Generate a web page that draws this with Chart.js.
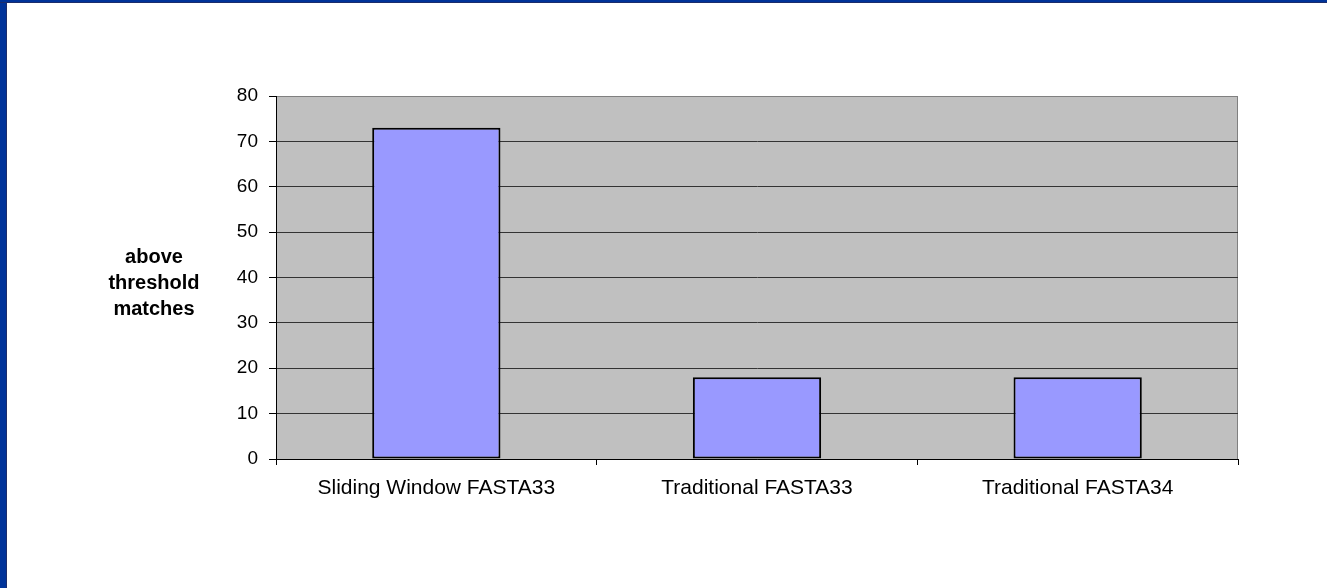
<!DOCTYPE html>
<html>
<head>
<meta charset="utf-8">
<script src="https://cdn.jsdelivr.net/npm/chart.js@4/dist/chart.umd.min.js"></script>
<style>
  html, body { margin: 0; padding: 0; background: #fff; }
  #wrap { position: relative; width: 1327px; height: 588px; overflow: hidden; }
  #chart { position: absolute; left: 0; top: 0; }
  .edge { position: absolute; background: #003399; }
  #edgeLeft { left: 0; top: 0; width: 6px; height: 588px; border-right: 1px solid #1c2d6b; }
  #edgeTop { left: 0; top: 0; width: 1327px; height: 2px; border-bottom: 1px solid #1c2d6b; }
</style>
</head>
<body>
<div id="wrap">
  <canvas id="chart" width="1327" height="588"></canvas>
  <div class="edge" id="edgeLeft"></div>
  <div class="edge" id="edgeTop"></div>
</div>
<script>
const categories = ['Sliding Window FASTA33', 'Traditional FASTA33', 'Traditional FASTA34'];
const matches = [73, 18, 18];
const yTitleLines = ['above', 'threshold', 'matches'];
const yMax = 80;
const yStep = 10;

const FONT = '"Liberation Sans", Arial, sans-serif';

// grey plot background with a thin grey frame
const plotBackground = {
  id: 'plotBackground',
  beforeDraw(chart) {
    const { ctx, chartArea: a } = chart;
    ctx.save();
    ctx.fillStyle = '#c0c0c0';
    ctx.fillRect(a.left, a.top, a.right - a.left, a.bottom - a.top);
    ctx.strokeStyle = '#808080';
    ctx.lineWidth = 1;
    ctx.strokeRect(a.left + 0.5, a.top + 0.5, a.right - a.left - 1, a.bottom - a.top);
    ctx.restore();
  }
};

// horizontal y-axis title, three lines left of the ticks
const yTitle = {
  id: 'yTitle',
  afterDraw(chart) {
    const ctx = chart.ctx;
    ctx.save();
    ctx.font = 'bold 20px ' + FONT;
    ctx.fillStyle = '#000';
    ctx.textAlign = 'center';
    ctx.textBaseline = 'alphabetic';
    yTitleLines.forEach((t, i) => {
      ctx.fillText(t, 154, 263 + i * 26);
    });
    ctx.restore();
  }
};

new Chart(document.getElementById('chart'), {
  type: 'bar',
  data: {
    labels: categories,
    datasets: [{
      data: matches,
      backgroundColor: '#9999ff',
      borderColor: '#000',
      borderWidth: 2,
      borderSkipped: false,
      barPercentage: 0.4,
      categoryPercentage: 1.0
    }]
  },
  options: {
    responsive: false,
    animation: false,
    layout: { padding: { top: 96, right: 89, left: 0, bottom: 0 } },
    plugins: {
      legend: { display: false },
      tooltip: { enabled: false }
    },
    scales: {
      x: {
        offset: true,
        grid: {
          offset: true,
          drawOnChartArea: false,
          tickLength: 6,
          tickColor: '#000'
        },
        border: { color: '#000', width: 1 },
        ticks: {
          color: '#000',
          padding: 11,
          font: { family: FONT, size: 21 },
          maxRotation: 0
        },
        afterFit(scale) { scale.height = 129; }
      },
      y: {
        min: 0,
        max: yMax,
        ticks: {
          stepSize: yStep,
          color: '#000',
          padding: 11,
          font: { family: FONT, size: 19 }
        },
        grid: {
          color: (c) => c.tick && c.tick.value === yMax ? '#808080' : '#333333',
          tickColor: '#000',
          tickLength: 7
        },
        border: { color: '#000', width: 1 },
        afterFit(scale) { scale.width = 276; }
      }
    }
  },
  plugins: [plotBackground, yTitle]
});
</script>
</body>
</html>
